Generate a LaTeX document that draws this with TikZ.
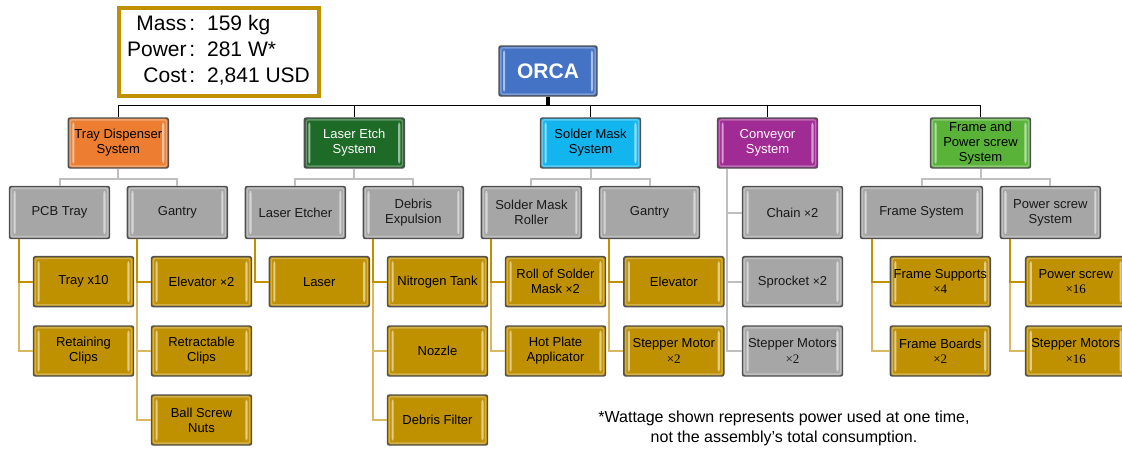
\documentclass[tikz,border=0pt]{standalone}
\usepackage{fontspec}
\setmainfont{Liberation Sans}
\newfontfamily\serx{Liberation Serif}
\definecolor{goldfill}{HTML}{BF9000}
\definecolor{golddark}{HTML}{C09000}
\definecolor{goldlight}{HTML}{D8B860}
\definecolor{grayfill}{HTML}{A6A6A6}
\definecolor{edgegray}{HTML}{505050}
\definecolor{conngray}{HTML}{BFBFBF}
\definecolor{orangeC}{HTML}{ED7D31}
\definecolor{dkgreenC}{HTML}{1E6B28}
\definecolor{cyanC}{HTML}{12B5EE}
\definecolor{purpleC}{HTML}{A12B95}
\definecolor{greenC}{HTML}{59B339}
\definecolor{blueC}{HTML}{4472C4}
\tikzset{
  bevel/.style={path picture={
    \fill[white,opacity=.55] ([xshift=3pt,yshift=-3.5pt]path picture bounding box.north west) rectangle ([xshift=4.6pt,yshift=3.5pt]path picture bounding box.south west);
    \fill[white,opacity=.55] ([xshift=-3pt,yshift=-3.5pt]path picture bounding box.north east) rectangle ([xshift=-4.6pt,yshift=3.5pt]path picture bounding box.south east);
    \draw[white,opacity=.3,line width=1pt] ([xshift=1.4pt,yshift=-1.4pt]path picture bounding box.north west) rectangle ([xshift=-1.4pt,yshift=1.4pt]path picture bounding box.south east);
  }},
  box/.style={draw=edgegray, line width=1.1pt, rounded corners=1.5pt, minimum width=75pt, minimum height=37.5pt, inner sep=1pt, align=center, font=\fontsize{9.75}{11.4}\selectfont, bevel},
  lvlone/.style={box},
  graybox/.style={box, fill=grayfill, text=black!90, minimum height=39pt},
  goldbox/.style={box, fill=goldfill, text=black},
  topline/.style={draw=black, line width=1.1pt},
  grayconn/.style={draw=conngray, line width=1.5pt},
  gconnA/.style={draw=golddark, line width=1.5pt},
  gconnB/.style={draw=goldlight, line width=1.5pt},
}
\begin{document}
\begin{tikzpicture}[x=0.75pt,y=-0.75pt]
\useasboundingbox (0,0) rectangle (1122,450);
% stats box
\node[draw=goldfill, line width=3pt, minimum width=150pt, minimum height=66pt, inner sep=0pt, font=\fontsize{15.75}{19.5}\selectfont] (stats) at (218.5,51.7)
  {\begin{tabular}{@{}r@{\hspace{2pt}}c@{\hspace{9pt}}l@{}}Mass&:&159 kg\\ Power&:&281 W*\\ Cost&:&2,841 USD\end{tabular}};
% root
\node[box, fill=blueC, text=white, minimum width=73.5pt, font=\bfseries\fontsize{15.75}{18}\selectfont] (orca) at (548,71) {ORCA};
% level 1
\node[lvlone, fill=orangeC, text=black] (td) at (118.3,143) {Tray Dispenser\\System};
\node[lvlone, fill=dkgreenC, text=white] (le) at (354.3,143) {Laser Etch\\System};
\node[lvlone, fill=cyanC, text=black] (sm) at (590.5,143) {Solder Mask\\System};
\node[lvlone, fill=purpleC, text=white] (cv) at (767.5,143) {Conveyor\\System};
\node[lvlone, fill=greenC, text=black] (fp) at (980.5,143) {Frame and\\Power screw\\System};
% level 2
\node[graybox] (pcb) at (59.5,212.5) {PCB Tray};
\node[graybox] (gan1) at (177.4,212.5) {Gantry};
\node[graybox] (lasr) at (295.4,212.5) {Laser Etcher};
\node[graybox] (debr) at (413.4,212.5) {Debris\\Expulsion};
\node[graybox] (smr) at (531.4,212.5) {Solder Mask\\Roller};
\node[graybox] (gan2) at (649.5,212.5) {Gantry};
\node[graybox] (chain) at (792.5,212.5) {Chain {\small×}2};
\node[graybox, minimum width=91.5pt] (frs) at (921.5,212.5) {Frame System};
\node[graybox] (pss) at (1050.4,212.5) {Power screw\\System};
% conveyor items
\node[graybox, minimum height=37.5pt] (sprk) at (792.5,281.7) {Sprocket {\small×}2};
\node[graybox, minimum height=37.5pt] (stpc) at (792.5,351) {Stepper Motors\\{\serx ×2}};
% gold items
\node[goldbox] (tray) at (83.5,281.7) {Tray x10};
\node[goldbox] (retn) at (83.5,351) {Retaining\\Clips};
\node[goldbox] (elv1) at (201.5,281.7) {Elevator {\small×}2};
\node[goldbox] (retr) at (201.5,351) {Retractable\\Clips};
\node[goldbox] (ball) at (201.5,420) {Ball Screw\\Nuts};
\node[goldbox] (lasr2) at (319.3,281.7) {Laser};
\node[goldbox] (nitr) at (437.5,281.7) {Nitrogen Tank};
\node[goldbox] (nozl) at (437.5,351) {Nozzle};
\node[goldbox] (dflt) at (437.5,420) {Debris Filter};
\node[goldbox] (roll) at (555.5,281.7) {Roll of Solder\\Mask {\small×}2};
\node[goldbox] (hotp) at (555.5,351) {Hot Plate\\Applicator};
\node[goldbox] (elv2) at (673.8,281.7) {Elevator};
\node[goldbox] (stpm) at (673.8,351) {Stepper Motor\\{\serx ×2}};
\node[goldbox] (fsup) at (940.3,281.7) {Frame Supports\\{\serx ×4}};
\node[goldbox] (fbrd) at (940.3,351) {Frame Boards\\{\serx ×2}};
\node[goldbox] (pscr) at (1075.7,281.7) {Power screw\\{\serx ×16}};
\node[goldbox] (stpf) at (1075.7,351) {Stepper Motors\\{\serx ×16}};
% footnote
\node[align=center, font=\fontsize{12}{15}\selectfont, inner sep=0pt] (note) at (784,428) {*Wattage shown represents power used at one time,\\not the assembly’s total consumption.};
% top connectors
\foreach \c in {td,le,sm,cv,fp}{\draw[topline] (orca.south) -- ++(0,9) -| (\c.north);}
\draw[draw=black, line width=2.4pt] (orca.south) -- ++(0,9);
% level1 -> level2
\foreach \p/\c in {td/pcb,td/gan1,le/lasr,le/debr,sm/smr,sm/gan2,fp/frs,fp/pss}{\draw[grayconn] (\p.south) -- ++(0,10) -| (\c.north);}
\foreach \c in {stpc,sprk,chain}{\draw[grayconn] ([xshift=8pt]cv.south west) |- (\c.west);}
% gold connectors (lighter ones first)
\foreach \p/\c/\s in {pcb/retn/7.9pt,gan1/ball/7.5pt,gan1/retr/7.5pt,debr/dflt/7.5pt,debr/nozl/7.5pt,smr/hotp/7.5pt,gan2/stpm/7.7pt,frs/fbrd/9pt,pss/stpf/7.7pt}{\draw[gconnB] ([xshift=\s]\p.south west) |- (\c.west);}
\foreach \p/\c/\s in {pcb/tray/7.9pt,gan1/elv1/7.5pt,lasr/lasr2/7.5pt,debr/nitr/7.5pt,smr/roll/7.5pt,gan2/elv2/7.7pt,frs/fsup/9pt,pss/pscr/7.7pt}{\draw[gconnA] ([xshift=\s]\p.south west) |- (\c.west);}
\end{tikzpicture}
\end{document}
